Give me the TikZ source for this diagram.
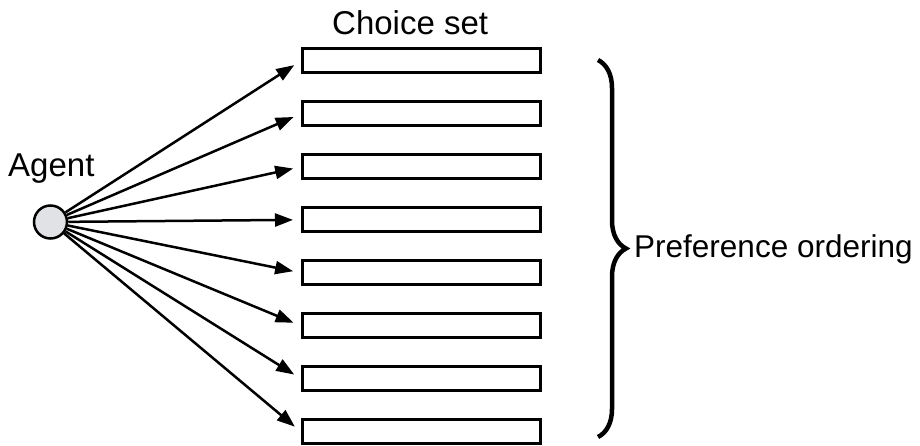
\documentclass[tikz,border=0pt]{standalone}
\usepackage{fontspec}
\setmainfont{Liberation Sans}
\usepackage{tikz}
\usetikzlibrary{matrix,arrows.meta,decorations.pathreplacing}

\definecolor{agentfill}{RGB}{225,226,229}
\tikzset{
  caption text/.style={font=\fontsize{33}{40}\selectfont, inner sep=0pt},
  choice/.style={draw, line width=3pt, minimum width=238pt, minimum height=24pt, inner sep=0pt},
  pick/.style={-{Triangle[length=18pt,width=13pt]}, line width=2.5pt, shorten >=8pt},
}

\begin{document}
\begin{tikzpicture}[x=1pt,y=-1pt]
  \useasboundingbox (0,0) rectangle (920,445);
  \node[circle, draw, line width=2.5pt, fill=agentfill, minimum size=33pt, inner sep=0pt] (a) at (50.5,222) {};
  \node[caption text, anchor=base west] (agent) at (8,176) {Agent};
  \matrix (m) [matrix of nodes, nodes in empty cells, row sep=26pt, nodes={choice}] at (421.5,246.3)
  {
 {} \\ {} \\ {} \\ {} \\ {} \\ {} \\ {} \\ {} \\
};
  \node[caption text, anchor=base west] (cs) at (332,34) {Choice set};
  \path[every edge/.append style={pick}]
  (a) edge (m-1-1.west) edge (m-2-1.west) edge (m-3-1.west) edge (m-4-1.west)
      edge (m-5-1.west) edge (m-6-1.west) edge (m-7-1.west) edge (m-8-1.west);
  \coordinate (bt) at (598,60);
  \coordinate (bb) at (598,437);
  \draw[decorate, decoration={brace, amplitude=28pt}, line width=4.5pt] (bt) -- (bb);
  \node[caption text, font=\fontsize{31.5}{38}\selectfont, anchor=base west] (po) at (634,257) {Preference ordering};
\end{tikzpicture}
\end{document}
